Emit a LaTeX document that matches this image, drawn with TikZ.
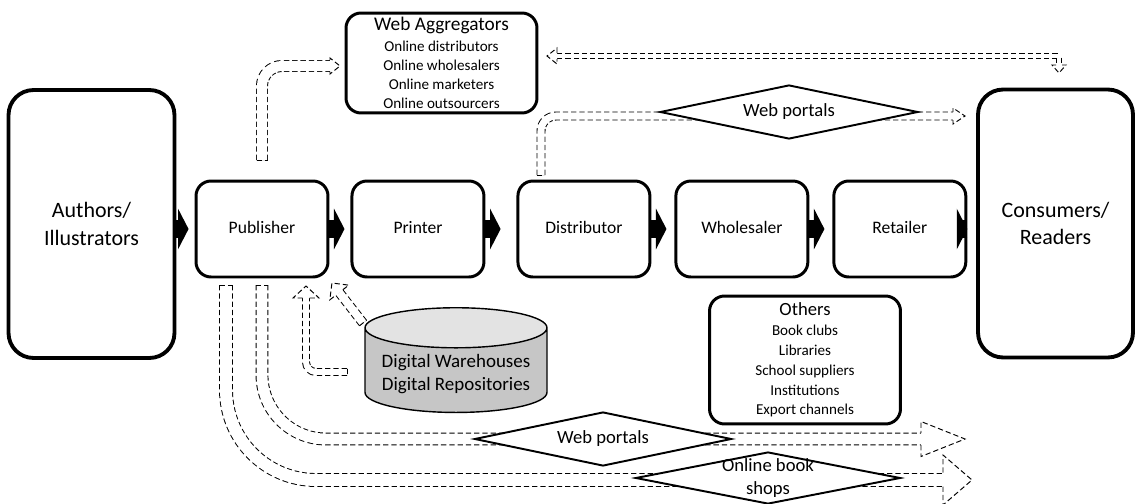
\documentclass[tikz,border=0pt]{standalone}
\usepackage{fontspec}
\setmainfont{Carlito}
\usepackage{tikz}
\usetikzlibrary{shapes.geometric,positioning,arrows.meta,backgrounds}

\tikzset{
  tipline/.style={draw=black, line width=0.55pt, dash pattern=on 3pt off 1.7pt},
  hollow/.style 2 args={draw=black, line width=#1, dash pattern=on 3pt off 1.7pt,
                        postaction={draw=white, solid, line width=#2}}
}
% open dashed arrow head: coordinate, angle, half shaft, half head, head length
\newcommand{\hollowtip}[5]{%
  \begin{scope}[shift={(#1)}, rotate=#2]
    \fill[white] (0,-#4) -- (#5,0) -- (0,#4) -- cycle;
    \draw[tipline] (0,#3) -- (0,#4) -- (#5,0) -- (0,-#4) -- (0,-#3);
  \end{scope}}
% closed tail of an open arrow
\newcommand{\hollowend}[3]{%
  \begin{scope}[shift={(#1)}, rotate=#2]
    \draw[tipline] (0,-#3) -- (0,#3);
  \end{scope}}

\begin{document}
\begin{tikzpicture}[x=0.02cm, y=-0.02cm,
    party/.style={rectangle, draw, line width=2.2pt, rounded corners=0.5cm,
                  minimum width=3.32cm, minimum height=5.36cm, align=center,
                  font=\fontsize{12.5}{15.5}\selectfont},
    stage/.style={rectangle, draw, line width=1.7pt, rounded corners=0.3cm,
                  minimum width=2.64cm, minimum height=1.92cm,
                  text height=7pt, text depth=2pt,
                  font=\fontsize{10}{12}\selectfont},
    group/.style={rectangle, draw, line width=1.7pt, rounded corners=0.3cm,
                  minimum width=3.82cm, align=center, inner sep=0pt},
    portal/.style={diamond, draw, fill=white, line width=1.1pt, aspect=4.8,
                   inner sep=0pt, minimum width=5.16cm, minimum height=1.08cm,
                   align=center, font=\fontsize{10.6}{13}\selectfont},
    flowarrow/.style={line width=10pt, -{Triangle[length=6pt,width=23pt]}}
]
\useasboundingbox (0,0) rectangle (1137,504);

% supply chain
\node[party] (auth) at (91.5,224) {Authors/\\Illustrators};
\node[stage] (pub) at (262,229) {Publisher};
\node[stage, right=0.42cm of pub] (prn) {Printer};
\node[stage, right=0.62cm of prn] (dist) {Distributor};
\node[stage, right=0.46cm of dist] (whl) {Wholesaler};
\node[stage, right=0.46cm of whl] (ret) {Retailer};
\node[party, minimum width=3.1cm] (cons) at (1055.5,223.5) {Consumers/\\Readers};

\draw[flowarrow, shorten >=3.4pt] (auth.east |- pub.west) -- (pub.west);
\draw[flowarrow, shorten >=3.4pt] (pub) -- (prn);
\draw[flowarrow, shorten >=9pt] (prn) -- (dist);
\draw[flowarrow, shorten >=4.5pt] (dist) -- (whl);
\draw[flowarrow, shorten >=4.5pt] (whl) -- (ret);
\draw[flowarrow, shorten >=5pt] (ret.east) -- (cons.west |- ret.east);

% other channels
\node[group, minimum height=2cm, font=\fontsize{8.6}{10.8}\selectfont] (agg) at (441.5,63)
  {{\fontsize{11}{13}\selectfont Web Aggregators}\\[1.5pt]
   Online distributors\\ Online wholesalers\\ Online marketers\\ Online outsourcers};
\node[group, minimum height=2.56cm, font=\fontsize{8.6}{11.3}\selectfont] (oth) at (805,360)
  {{\fontsize{10.6}{13}\selectfont Others}\\ Book clubs\\ Libraries\\ School suppliers\\
   Institutions\\ Export channels};
\node[portal] (webtop) at (789,112) {Web portals};
\node[portal, minimum width=5.14cm] (webbot) at (603,439) {Web portals};
\node[portal, minimum width=5.3cm, minimum height=1.04cm, aspect=6, inner sep=-5pt] (shops)
  at (768,478) {Online book\\shops};
\node[cylinder, shape border rotate=90, draw, line width=0.8pt, aspect=0.25,
      cylinder uses custom fill, cylinder body fill=gray!45, cylinder end fill=gray!22,
      minimum width=3.64cm, minimum height=2.02cm, align=center,
      font=\fontsize{10.8}{13}\selectfont] (dw) at (456,374)
  {Digital Warehouses\\Digital Repositories};

% open arrows
\coordinate (pubtop) at (262,160);
\coordinate (aggin) at (330,66);
\coordinate (disttop) at (541,175);
\coordinate (consin) at (953,116);
\coordinate (aggout) at (557,56);
\coordinate (consup) at (1059,65);
\coordinate (dwtail) at (363,323);
\coordinate (pubin) at (339.3,292.5);
\coordinate (dwside) at (347,372);
\coordinate (pubin2) at (306,298);
\coordinate (pubdown) at (262,285);
\coordinate (portalend) at (921,439);
\coordinate (pubdown2) at (226,285);
\coordinate (shopend) at (943,480);

\begin{scope}[on background layer]
\draw[hollow={6.8pt}{5.7pt}, rounded corners=0.4cm] (pubtop) -- (pubtop |- aggin) -- (aggin);
\draw[hollow={5.1pt}{4pt}, rounded corners=0.3cm] (disttop) -- (disttop |- consin) -- (consin);
\draw[hollow={3.9pt}{2.8pt}] (aggout) -- (consup |- aggout) -- (consup);
\draw[hollow={5.6pt}{4.5pt}] (dwtail) -- (pubin);
\draw[hollow={4.5pt}{3.4pt}, rounded corners=0.2cm] (dwside) -- (pubin2 |- dwside) -- (pubin2);
\draw[hollow={7.3pt}{6.2pt}, rounded corners=1.28cm] (pubdown) -- (pubdown |- portalend) -- (portalend);
\draw[hollow={7.9pt}{6.8pt}, rounded corners=1.8cm] (pubdown2) -- (pubdown2 |- shopend) -- (shopend);
\end{scope}

\hollowtip{aggin}{0}{5.5}{8}{10}
\hollowtip{consin}{0}{4}{8}{12}
\hollowtip{aggout}{180}{3}{8}{10}
\hollowtip{consup}{-90}{3}{7}{8}
\hollowtip{pubin}{127.8}{4.5}{12}{12}
\hollowtip{pubin2}{90}{3.5}{13}{12}
\hollowtip{portalend}{0}{6}{17.5}{44}
\hollowtip{shopend}{0}{6.5}{25}{29}
\hollowend{pubtop}{90}{5.5}
\hollowend{disttop}{90}{4}
\hollowend{pubdown}{90}{6}
\hollowend{pubdown2}{90}{6.5}
\hollowend{dwside}{0}{3.5}
\hollowend{dwtail}{127.8}{4.5}
\end{tikzpicture}
\end{document}
